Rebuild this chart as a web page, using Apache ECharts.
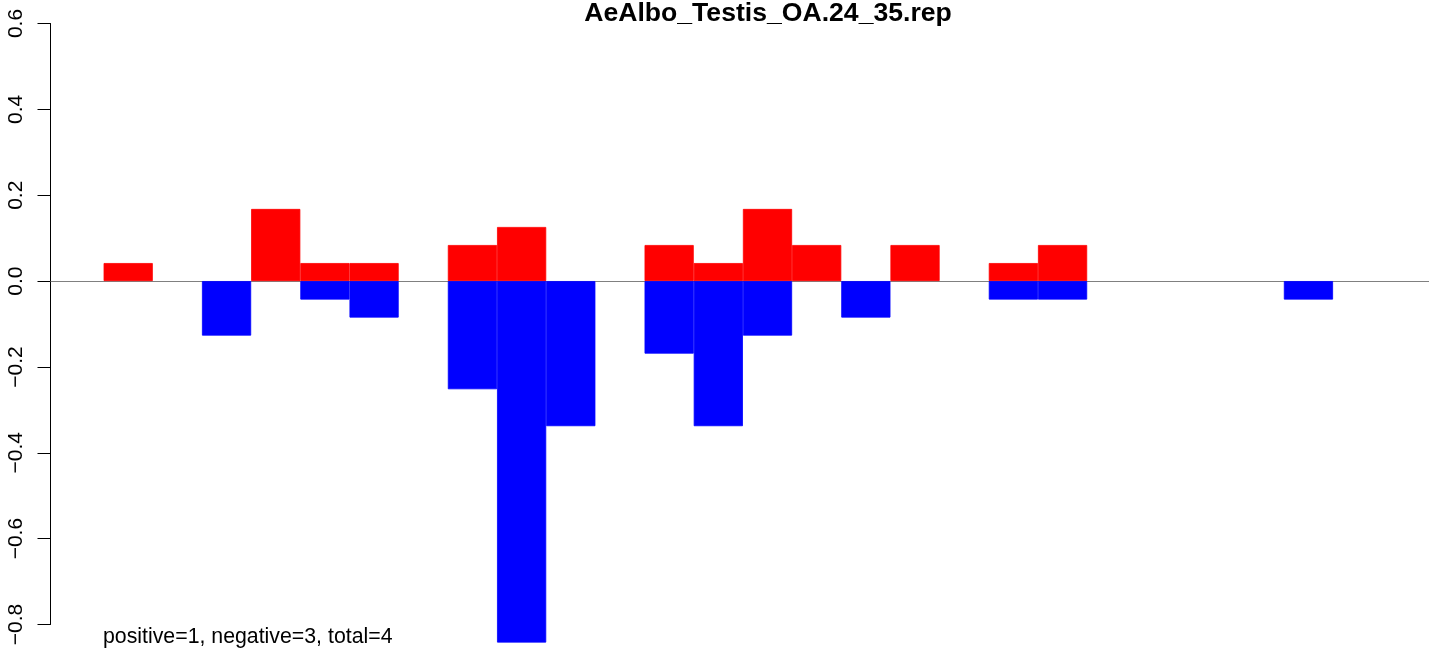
<!DOCTYPE html>
<html>
<head>
<meta charset="utf-8">
<script src="https://cdn.jsdelivr.net/npm/echarts@6/dist/echarts.min.js"></script>
<style>
  html, body { margin: 0; padding: 0; background: #fff; }
  #chart { width: 1429px; height: 649px; }
</style>
</head>
<body>
<div id="chart"></div>
<script>
// ---- data ----
const titleText = 'AeAlbo_Testis_OA.24_35.rep';
const noteText = 'positive=1, negative=3, total=4';
const binIndex = [1,2,3,4,5,6,7,8,9,10,11,12,13,14,15,16,17,18,19,20,21,22,23,24,25,26,27];
const positiveValues = [0.042,0,0,0.168,0.042,0.042,0,0.084,0.126,0,0,0.084,0.042,0.168,0.084,0,0.084,0,0.042,0.084,0,0,0,0,0,0,0];
const negativeValues = [0,0,-0.127,0,-0.043,-0.085,0,-0.252,-0.842,-0.338,0,-0.169,-0.338,-0.127,0,-0.085,0,0,-0.043,-0.043,0,0,0,0,-0.043,0,0];
const yTicks = [-0.8,-0.6,-0.4,-0.2,0.0,0.2,0.4,0.6];

// ---- layout ----
const nBars = binIndex.length;
const pad = nBars * 0.04;
const xMin = -pad, xMax = nBars + pad;
const gridLeft = 50.5, gridTop = 23.5, gridHeight = 601, gridWidth = 1434;
const barPx = gridWidth / (xMax - xMin);

// zero-height bins are left empty
const toPts = arr => arr.map((v, i) => [binIndex[i] - 0.5, v === 0 ? '-' : v]);

const chart = echarts.init(document.getElementById('chart'), null, { renderer: 'canvas' });
const FONT = '"Liberation Sans", Arial, Helvetica, sans-serif';

chart.setOption({
  animation: false,
  backgroundColor: '#ffffff',
  title: [
    {
      text: titleText,
      left: 768,
      top: 0,
      padding: 0,
      textAlign: 'center',
      textStyle: { fontFamily: FONT, fontWeight: 'bold', fontSize: 26.6, color: '#000' }
    },
    {
      text: noteText,
      left: 103,
      top: 627,
      padding: 0,
      textStyle: { fontFamily: FONT, fontWeight: 'normal', fontSize: 21.3, color: '#000' }
    }
  ],
  grid: {
    left: gridLeft, top: gridTop, width: gridWidth, height: gridHeight,
    containLabel: false, outerBoundsMode: 'none'
  },
  xAxis: {
    type: 'value', min: xMin, max: xMax,
    axisLine: { show: true, onZero: true, lineStyle: { color: '#808080', width: 1 } },
    axisTick: { show: false },
    axisLabel: { show: false },
    splitLine: { show: false }
  },
  yAxis: {
    type: 'value', min: yTicks[0], max: yTicks[yTicks.length - 1], interval: 0.2,
    axisLine: { show: true, onZero: false, lineStyle: { color: '#000', width: 1 } },
    axisTick: { show: true, length: 13, lineStyle: { color: '#000', width: 1 } },
    splitLine: { show: false },
    axisLabel: {
      rotate: 90, margin: 24, color: '#000', fontFamily: FONT, fontSize: 21,
      formatter: v => (Math.abs(v) < 1e-9 ? '0.0' : v.toFixed(1).replace('-', '\u2212'))
    }
  },
  series: [
    {
      name: 'positive', type: 'bar', data: toPts(positiveValues),
      barWidth: barPx, barGap: '-100%', clip: false,
      itemStyle: { color: '#ff0000', borderColor: '#ff0000', borderWidth: 0.8 }, z: 2
    },
    {
      name: 'negative', type: 'bar', data: toPts(negativeValues),
      barWidth: barPx, barGap: '-100%', clip: false,
      itemStyle: { color: '#0000ff', borderColor: '#0000ff', borderWidth: 0.8 }, z: 2
    }
  ]
});
</script>
</body>
</html>
